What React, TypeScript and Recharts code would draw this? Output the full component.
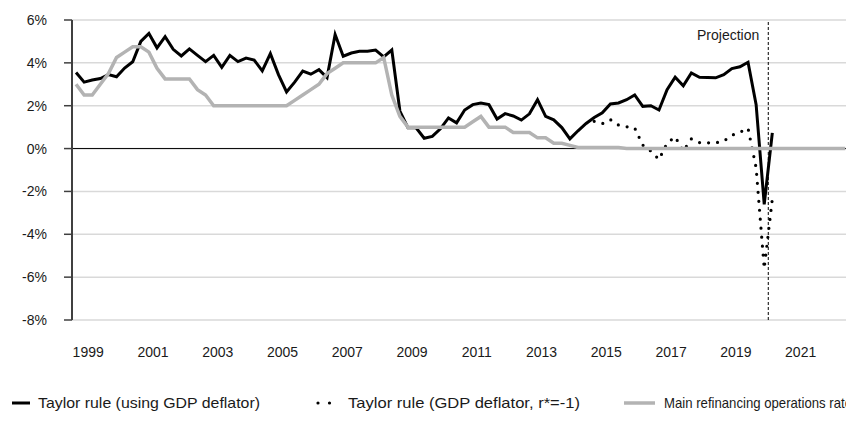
import React from 'react';
import { LineChart, Line, XAxis, YAxis, CartesianGrid, ReferenceLine } from 'recharts';

// quarterly series, first value = 1999 Q1
const START_YEAR = 1999;

const taylorRule = [
  3.55, 3.1, 3.2, 3.27, 3.45, 3.35, 3.76, 4.05, 5.0, 5.37,
  4.7, 5.22, 4.63, 4.32, 4.65, 4.35, 4.06, 4.35, 3.79, 4.35,
  4.06, 4.22, 4.13, 3.63, 4.43, 3.45, 2.64, 3.1, 3.62, 3.47,
  3.68, 3.31, 5.32, 4.31, 4.46, 4.54, 4.54, 4.6, 4.28, 4.6,
  1.75, 0.97, 0.97, 0.48, 0.57, 0.92, 1.43, 1.2, 1.8, 2.05,
  2.12, 2.05, 1.38, 1.63, 1.52, 1.33, 1.62, 2.28, 1.5, 1.34,
  0.98, 0.45, 0.83, 1.17, 1.45, 1.67, 2.08, 2.13, 2.28, 2.5,
  1.97, 2.0, 1.8, 2.75, 3.33, 2.93, 3.53, 3.33, 3.32, 3.3,
  3.45, 3.73, 3.82, 4.03, 2.05, -2.6, 0.73,
];

// starts 2015 Q1
const LOW_RSTAR_START = 64;
const taylorRuleLowRStar = [
  1.27, 1.16, 1.35, 1.1, 1.02, 0.96, 0.16, -0.12, -0.51, 0.25,
  0.55, -0.12, 0.45, 0.28, 0.27, 0.27, 0.35, 0.62, 0.76, 0.95,
  -0.9, -5.6, -2.35,
];

const mroRate = [
  3.0, 2.5, 2.5, 3.0, 3.5, 4.25, 4.5, 4.75, 4.75, 4.5,
  3.75, 3.25, 3.25, 3.25, 3.25, 2.75, 2.5, 2.0, 2.0, 2.0,
  2.0, 2.0, 2.0, 2.0, 2.0, 2.0, 2.0, 2.25, 2.5, 2.75,
  3.0, 3.5, 3.75, 4.0, 4.0, 4.0, 4.0, 4.0, 4.25, 2.5,
  1.5, 1.0, 1.0, 1.0, 1.0, 1.0, 1.0, 1.0, 1.0, 1.25,
  1.5, 1.0, 1.0, 1.0, 0.75, 0.75, 0.75, 0.5, 0.5, 0.25,
  0.25, 0.15, 0.05, 0.05, 0.05, 0.05, 0.05, 0.05, 0, 0,
  0, 0, 0, 0, 0, 0, 0, 0, 0, 0,
  0, 0, 0, 0, 0, 0, 0, 0, 0, 0,
  0, 0, 0, 0, 0, 0,
];

const yTicks = [-8, -6, -4, -2, 0, 2, 4, 6];
const yearTicks = [
  1999, 2000, 2001, 2002, 2003, 2004, 2005, 2006, 2007, 2008, 2009, 2010,
  2011, 2012, 2013, 2014, 2015, 2016, 2017, 2018, 2019, 2020, 2021, 2022,
];
const yearLabels = [1999, 2001, 2003, 2005, 2007, 2009, 2011, 2013, 2015, 2017, 2019, 2021];
const PROJECTION_START = 2020.5;
const X_DOMAIN = [1999, 2022.9];

const legendNames = [
  'Taylor rule (using GDP deflator)',
  'Taylor rule (GDP deflator, r*=-1)',
  'Main refinancing operations rate',
];

const data = mroRate.map((mro, i) => {
  const j = i - LOW_RSTAR_START;
  return {
    t: START_YEAR + (i + 0.5) / 4,
    taylor: i < taylorRule.length ? taylorRule[i] : null,
    lowRStar: j >= 0 && j < taylorRuleLowRStar.length ? taylorRuleLowRStar[j] : null,
    mro,
  };
});

const FONT = '"Liberation Sans", Arial, sans-serif';
const tickStyle = { fill: '#1a1a1a', fontSize: 14, fontFamily: FONT };

const ProjectionLabel = (props: any) => {
  const { viewBox } = props;
  return (
    <text x={viewBox.x - 9} y={viewBox.y + 20} textAnchor="end" fontSize={14} fontFamily={FONT} fill="#1a1a1a">
      Projection
    </text>
  );
};

const Legend = () => (
  <svg width={846} height={30} style={{ position: 'absolute', left: 0, top: 388 }}>
    <g fontFamily={FONT} fontSize={15} fill="#1a1a1a">
      <line x1={12} x2={30} y1={15} y2={15} stroke="#000" strokeWidth={3} />
      <text x={38} y={20} textLength={222} lengthAdjust="spacingAndGlyphs">{legendNames[0]}</text>
      <line x1={318} x2={341} y1={15} y2={15} stroke="#000" strokeWidth={3.2} strokeDasharray="0 11.5" strokeLinecap="round" />
      <text x={348} y={20} textLength={232} lengthAdjust="spacingAndGlyphs">{legendNames[1]}</text>
      <line x1={624} x2={655} y1={15} y2={15} stroke="#b3b3b3" strokeWidth={3.5} />
      <text x={664} y={20} textLength={188} lengthAdjust="spacingAndGlyphs">{legendNames[2]}</text>
    </g>
  </svg>
);

const App = () => {
  return (
    <div style={{ position: 'relative', width: 846, height: 433, overflow: 'hidden', background: '#fff' }}>
      <style>{'body{margin:0}'}</style>
      <LineChart width={846} height={433} data={data} margin={{ top: 20, right: 0, bottom: 75, left: 0 }}>
        <CartesianGrid horizontal vertical={false} stroke="#d9d9d9" strokeWidth={1.5} />
        <XAxis
          xAxisId="years"
          dataKey="t"
          type="number"
          domain={X_DOMAIN}
          allowDataOverflow
          ticks={yearTicks}
          tick={false}
          tickSize={7}
          height={8}
          axisLine={false}
          tickLine={{ stroke: '#404040', strokeWidth: 1.5 }}
        />
        <XAxis
          xAxisId="labels"
          dataKey="t"
          type="number"
          domain={X_DOMAIN}
          allowDataOverflow
          ticks={yearLabels.map(y => y + 0.5)}
          tickFormatter={v => String(Math.floor(v))}
          tick={tickStyle}
          tickSize={0}
          tickMargin={27}
          height={30}
          axisLine={false}
          tickLine={false}
        />
        <YAxis
          domain={[-8, 6]}
          ticks={yTicks}
          tickFormatter={v => `${v}%`}
          width={72}
          tick={tickStyle}
          tickSize={8}
          tickMargin={17}
          axisLine={{ stroke: '#404040', strokeWidth: 2 }}
          tickLine={{ stroke: '#404040', strokeWidth: 1.5 }}
          interval={0}
        />
        <ReferenceLine xAxisId="years" y={0} stroke="#000" strokeWidth={1} />
        <ReferenceLine
          xAxisId="years"
          x={PROJECTION_START}
          stroke="#000"
          strokeWidth={1}
          strokeDasharray="3 2"
          label={<ProjectionLabel />}
        />
        <Line
          xAxisId="years"
          dataKey="taylor"
          stroke="#000"
          strokeWidth={3}
          dot={false}
          connectNulls={false}
          isAnimationActive={false}
        />
        <Line
          xAxisId="years"
          dataKey="lowRStar"
          stroke="#000"
          strokeWidth={3.2}
          strokeDasharray="0 9"
          strokeLinecap="round"
          dot={false}
          isAnimationActive={false}
        />
        <Line
          xAxisId="years"
          dataKey="mro"
          stroke="#b3b3b3"
          strokeWidth={3.5}
          dot={false}
          isAnimationActive={false}
        />
      </LineChart>
      <Legend />
    </div>
  );
};

export default App;
